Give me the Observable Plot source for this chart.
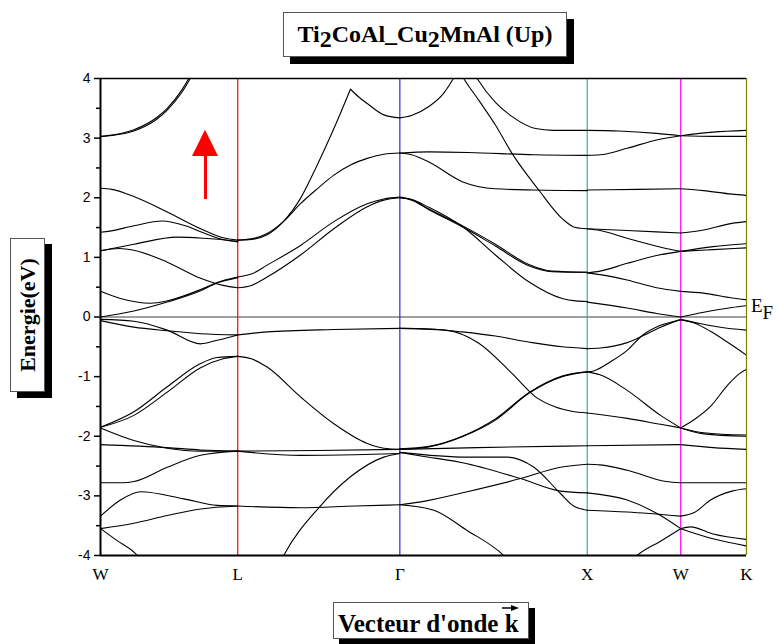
<!DOCTYPE html>
<html><head><meta charset="utf-8">
<script src="https://cdn.jsdelivr.net/npm/d3@7"></script>
<script src="https://cdn.jsdelivr.net/npm/@observablehq/plot@0.6"></script>
<style>
body{margin:0;background:#fff;}
#wrap{position:relative;width:779px;height:644px;overflow:hidden;font-family:"Liberation Serif","Times New Roman",serif;}
#wrap svg{position:absolute;left:0;top:0;}
.box{position:absolute;background:#fff;border:1px solid #555;box-sizing:border-box;font-weight:bold;color:#000;white-space:nowrap;}
.shadow{position:absolute;background:#000;}
</style></head><body><div id="wrap"></div>
<script>
// high-symmetry points
const kLabels = ["W","L","Γ","X","W","K"];
const kTicks = [0, 0.728, 1.588, 2.582, 3.078, 3.427];
const kLineColors = ["#000000","#ff0000","#2a2ad8","#40a8a8","#ff00ff","#808000"];
const energyTicks = [-4,-3,-2,-1,0,1,2,3,4];
const energyMinor = [-3.5,-2.5,-1.5,-0.5,0.5,1.5,2.5,3.5];

// bands, segment W-L  [k, E(eV)]
const bandsWL = [
  [[0,3.03],[0.06,3.05],[0.177,3.14],[0.30,3.35],[0.354,3.5],[0.43,3.8],[0.468,4.0],[0.5,4.2]],
  [[0,3.03],[0.06,3.045],[0.177,3.12],[0.30,3.32],[0.354,3.47],[0.43,3.76],[0.476,4.0],[0.51,4.2]],
  [[0,2.16],[0.06,2.14],[0.177,2.02],[0.354,1.76],[0.531,1.48],[0.65,1.33],[0.728,1.29]],
  [[0,1.42],[0.05,1.44],[0.177,1.53],[0.327,1.61],[0.45,1.53],[0.531,1.43],[0.65,1.3],[0.728,1.26]],
  [[0,1.11],[0.177,1.22],[0.407,1.34],[0.55,1.32],[0.728,1.27]],
  [[0,1.11],[0.1,1.15],[0.177,1.12],[0.354,0.92],[0.531,0.65],[0.65,0.53],[0.728,0.49]],
  [[0,0.43],[0.106,0.31],[0.265,0.23],[0.354,0.27],[0.531,0.46],[0.619,0.58],[0.728,0.67]],
  [[0,0],[0.177,0.1],[0.354,0.25],[0.531,0.44],[0.619,0.57],[0.728,0.66]],
  [[0,-0.04],[0.177,-0.07],[0.354,-0.22],[0.531,-0.45],[0.619,-0.39],[0.728,-0.30]],
  [[0,-0.06],[0.177,-0.17],[0.354,-0.23],[0.531,-0.28],[0.728,-0.30]],
  [[0,-1.85],[0.177,-1.59],[0.354,-1.17],[0.531,-0.78],[0.619,-0.68],[0.728,-0.66]],
  [[0,-1.85],[0.177,-1.65],[0.354,-1.26],[0.531,-0.85],[0.65,-0.7],[0.728,-0.66]],
  [[0,-1.86],[0.177,-2.07],[0.354,-2.2],[0.531,-2.25],[0.728,-2.25]],
  [[0,-2.14],[0.354,-2.19],[0.531,-2.23],[0.728,-2.25]],
  [[0,-2.78],[0.12,-2.78],[0.177,-2.76],[0.354,-2.52],[0.531,-2.32],[0.728,-2.25]],
  [[0,-3.34],[0.106,-3.07],[0.212,-2.93],[0.442,-3.05],[0.619,-3.16],[0.728,-3.17]],
  [[0,-3.55],[0.177,-3.46],[0.354,-3.33],[0.531,-3.22],[0.728,-3.17]],
  [[0,-3.55],[0.088,-3.75],[0.195,-4.0],[0.22,-4.1]]
];
// segment L-Γ
const bandsLG = [
  [[0.728,1.29],[0.8,1.3],[0.884,1.38],[0.97,1.6],[1.061,1.99],[1.15,2.55],[1.238,3.16],[1.326,3.82]],
  [[1.326,3.82],[1.37,3.69],[1.415,3.58],[1.503,3.39],[1.588,3.34]],
  [[0.728,1.29],[0.8,1.31],[0.884,1.4],[0.97,1.6],[1.061,1.9],[1.15,2.15],[1.238,2.38],[1.326,2.55],[1.415,2.66],[1.503,2.73],[1.588,2.75]],
  [[0.728,0.67],[0.8,0.72],[0.884,0.87],[1.061,1.2],[1.238,1.6],[1.415,1.9],[1.503,1.98],[1.588,2.01]],
  [[0.728,0.49],[0.8,0.53],[0.884,0.67],[1.061,1.04],[1.238,1.48],[1.415,1.85],[1.503,1.96],[1.588,2.0]],
  [[0.728,-0.30],[0.884,-0.25],[1.238,-0.21],[1.588,-0.19]],
  [[0.728,-0.66],[0.8,-0.7],[0.884,-0.84],[1.061,-1.34],[1.238,-1.79],[1.415,-2.12],[1.503,-2.2],[1.588,-2.22]],
  [[0.728,-2.25],[1.15,-2.24],[1.588,-2.22]],
  [[0.728,-2.25],[1.061,-2.32],[1.35,-2.31],[1.588,-2.29]],
  [[0.728,-3.17],[1.061,-3.2],[1.35,-3.17],[1.588,-3.15]],
  [[0.94,-4.2],[0.972,-4.0],[1.158,-3.2],[1.326,-2.68],[1.503,-2.35],[1.588,-2.29]]
];
// segment Γ-X
const bandsGX = [
  [[1.588,3.34],[1.65,3.38],[1.742,3.53],[1.82,3.75],[1.872,4.0],[1.9,4.15]],
  [[1.90,4.15],[1.927,4.0],[2.01,3.62],[2.095,3.22],[2.184,2.74],[2.325,2.13],[2.449,1.65],[2.52,1.5],[2.582,1.48]],
  [[1.97,4.15],[1.998,4.0],[2.095,3.6],[2.184,3.36],[2.308,3.16],[2.4,3.13],[2.582,3.13]],
  [[1.588,2.75],[1.742,2.77],[1.95,2.76],[2.3,2.72],[2.582,2.71]],
  [[1.588,2.75],[1.65,2.72],[1.742,2.6],[1.919,2.27],[2.095,2.15],[2.3,2.13],[2.582,2.12]],
  [[1.588,2.01],[1.65,1.97],[1.742,1.81],[1.927,1.52],[2.095,1.22],[2.272,0.88],[2.396,0.77],[2.582,0.75]],
  [[1.588,2.0],[1.65,1.96],[1.742,1.80],[1.927,1.5],[2.095,1.19],[2.272,0.86],[2.396,0.76],[2.582,0.75]],
  [[1.588,2.0],[1.65,1.97],[1.742,1.84],[1.927,1.5],[2.095,1.04],[2.272,0.59],[2.449,0.31],[2.52,0.27],[2.582,0.26]],
  [[1.588,-0.19],[1.75,-0.2],[1.919,-0.25],[2.095,-0.32],[2.272,-0.42],[2.45,-0.5],[2.582,-0.53]],
  [[1.588,-0.19],[1.83,-0.22],[2.007,-0.44],[2.184,-0.95],[2.308,-1.34],[2.414,-1.51],[2.50,-1.58],[2.582,-1.61]],
  [[1.588,-2.22],[1.742,-2.18],[1.919,-2.01],[2.095,-1.73],[2.272,-1.28],[2.449,-1.0],[2.582,-0.92]],
  [[1.588,-2.21],[1.742,-2.17],[1.919,-2.0],[2.095,-1.71],[2.272,-1.27],[2.449,-0.99],[2.582,-0.92]],
  [[1.588,-2.22],[2.0,-2.19],[2.582,-2.16]],
  [[1.588,-2.27],[1.945,-2.35],[2.158,-2.35],[2.299,-2.52],[2.44,-2.96],[2.51,-3.17],[2.582,-3.24]],
  [[1.588,-2.27],[1.7,-2.33],[1.945,-2.46],[2.228,-2.71],[2.44,-2.92],[2.582,-2.95]],
  [[1.588,-3.15],[1.7,-3.1],[1.945,-2.93],[2.228,-2.71],[2.44,-2.52],[2.582,-2.47]],
  [[1.588,-3.15],[1.768,-3.24],[1.945,-3.58],[2.139,-4.0],[2.17,-4.1]]
];
// segment X-W
const bandsXW = [
  [[2.582,3.13],[2.75,3.12],[2.95,3.08],[3.078,3.04]],
  [[2.582,2.71],[2.65,2.72],[2.794,2.83],[2.95,2.97],[3.078,3.04]],
  [[2.582,2.13],[2.85,2.14],[3.078,2.15]],
  [[2.582,1.48],[2.794,1.45],[3.078,1.41]],
  [[2.582,1.48],[2.65,1.45],[2.794,1.32],[3.0,1.15],[3.078,1.10]],
  [[2.582,0.74],[2.65,0.77],[2.794,0.9],[2.95,1.03],[3.078,1.10]],
  [[2.582,0.74],[2.65,0.71],[2.794,0.62],[2.95,0.49],[3.078,0.43]],
  [[2.582,0.25],[2.794,0.15],[2.95,0.06],[3.078,0.0]],
  [[2.582,-0.53],[2.652,-0.52],[2.794,-0.43],[2.874,-0.32],[2.971,-0.17],[3.078,-0.04]],
  [[2.582,-0.92],[2.62,-0.90],[2.706,-0.75],[2.794,-0.56],[2.874,-0.31],[2.971,-0.14],[3.078,-0.05]],
  [[2.582,-0.92],[2.65,-0.97],[2.794,-1.23],[2.971,-1.65],[3.078,-1.86]],
  [[2.582,-1.61],[2.794,-1.70],[2.971,-1.80],[3.078,-1.86]],
  [[2.582,-2.16],[3.078,-2.14]],
  [[2.582,-2.47],[2.65,-2.48],[2.794,-2.57],[3.0,-2.76],[3.078,-2.78]],
  [[2.582,-2.95],[2.794,-3.07],[2.971,-3.33],[3.078,-3.55]],
  [[2.582,-3.24],[2.794,-3.27],[3.078,-3.34]],
  [[2.82,-4.08],[2.847,-4.0],[2.971,-3.76],[3.078,-3.55]]
];
// segment W-K
const bandsWK = [
  [[3.078,3.04],[3.25,3.1],[3.427,3.13]],
  [[3.078,3.04],[3.25,3.03],[3.427,3.03]],
  [[3.078,2.15],[3.2,2.12],[3.35,2.06],[3.427,2.04]],
  [[3.078,1.41],[3.2,1.46],[3.35,1.57],[3.427,1.6]],
  [[3.078,1.10],[3.25,1.18],[3.427,1.23]],
  [[3.078,1.10],[3.25,1.13],[3.427,1.16]],
  [[3.078,0.43],[3.2,0.40],[3.35,0.32],[3.427,0.29]],
  [[3.078,0.0],[3.2,0.08],[3.35,0.16],[3.427,0.19]],
  [[3.078,-0.04],[3.18,-0.11],[3.325,-0.19],[3.427,-0.22]],
  [[3.078,-0.05],[3.15,-0.1],[3.236,-0.24],[3.325,-0.42],[3.427,-0.64]],
  [[3.078,-1.86],[3.15,-1.72],[3.236,-1.5],[3.325,-1.15],[3.39,-0.95],[3.427,-0.88]],
  [[3.078,-1.86],[3.2,-1.94],[3.427,-1.98]],
  [[3.078,-1.86],[3.2,-1.96],[3.427,-2.0]],
  [[3.078,-2.14],[3.25,-2.19],[3.427,-2.22]],
  [[3.078,-2.78],[3.25,-2.78],[3.427,-2.78]],
  [[3.078,-3.34],[3.15,-3.28],[3.236,-3.07],[3.35,-2.92],[3.427,-2.88]],
  [[3.078,-3.55],[3.13,-3.52],[3.25,-3.64],[3.427,-3.73]],
  [[3.078,-3.55],[3.25,-3.72],[3.427,-3.84]]
];
// spin-up arrow annotation
const arrowK = 0.557;
const arrowShaft = [1.97, 2.72];
const arrowHead = [[0.488,2.69,2.69],[0.557,2.69,3.13],[0.626,2.69,2.69]];

const rows = [];
[bandsWL, bandsLG, bandsGX, bandsXW, bandsWK].forEach((seg, s) =>
  seg.forEach((band, b) => band.forEach(([k, E]) => rows.push({k, E, id: s + "-" + b}))));
const symRows = kTicks.map((k, i) => ({k, c: kLineColors[i]}));
const headRows = arrowHead.map(([k, b, t]) => ({k, b, t}));

const chart = Plot.plot({
  width: 779, height: 644,
  marginLeft: 100, marginRight: 33, marginTop: 78, marginBottom: 89,
  x: {domain: [0, 3.427]},
  y: {domain: [-4, 4]},
  style: {background: "transparent", color: "#000"},
  marks: [
    Plot.ruleY([0], {stroke: "#808080", strokeWidth: 1.5}),
    Plot.ruleX(symRows.slice(1), {x: "k", stroke: "c", strokeWidth: 1.2}),
    Plot.line(rows, {x: "k", y: "E", z: "id", curve: "monotone-x", stroke: "#000", strokeWidth: 1.1, clip: true}),
    Plot.ruleX([arrowK], {y1: arrowShaft[0], y2: arrowShaft[1], stroke: "#ff0000", strokeWidth: 3}),
    Plot.areaY(headRows, {x: "k", y1: "b", y2: "t", fill: "#ff0000", curve: "linear"}),
    Plot.ruleY([4], {stroke: "#000", strokeWidth: 1.5}),
    Plot.ruleY([-4], {stroke: "#000", strokeWidth: 2}),
    Plot.ruleX([0], {stroke: "#000", strokeWidth: 2}),
    Plot.axisY(energyTicks, {tickSize: 6, tickPadding: 4, fontSize: 14, fontFamily: "Liberation Sans, Arial, sans-serif", tickFormat: d => String(d), label: null, strokeWidth: 1.5}),
    Plot.axisY(energyMinor, {tickSize: 4, tickFormat: () => "", label: null, strokeWidth: 1.5}),
    Plot.axisX(kTicks, {tickSize: 0, tickPadding: 12, fontSize: 17, fontFamily: "Liberation Serif, Times New Roman, serif", tickFormat: d => kLabels[kTicks.indexOf(d)], label: null})
  ]
});
const wrap = document.getElementById("wrap");
wrap.appendChild(chart);

function addDiv(cls, css, html) {
  const d = document.createElement("div");
  d.className = cls; d.style.cssText = css; if (html) d.innerHTML = html;
  wrap.appendChild(d); return d;
}
// title
addDiv("shadow", "left:290px;top:19px;width:284px;height:45px;");
addDiv("box", "left:283px;top:12px;width:284px;height:45px;font-size:24px;line-height:42px;text-align:center;",
  'Ti<span style="position:relative;top:5px">2</span>CoAl_Cu<span style="position:relative;top:5px">2</span>MnAl (Up)');
// y label
addDiv("shadow", "left:17px;top:244px;width:35px;height:154px;");
addDiv("box", "left:10px;top:238px;width:35px;height:154px;",
  '<div style="position:absolute;left:50%;top:50%;transform:translate(-50%,-50%) rotate(-90deg);font-size:22px;">Energie(eV)</div>');
// x label
addDiv("shadow", "left:339px;top:608px;width:196px;height:40px;");
addDiv("box", "left:333px;top:602px;width:196px;height:37px;font-size:25px;line-height:42px;padding-left:4px;",
  'Vecteur d\'onde k<svg width="18" height="8" style="position:absolute;left:168px;top:1px"><line x1="0" y1="4" x2="11" y2="4" stroke="#000" stroke-width="1.5"/><path d="M9,1 L17,4 L9,7 Z" fill="#000"/></svg>');
// Fermi level label
addDiv("", "position:absolute;left:751px;top:296px;font-size:19px;line-height:19px;",
  'E<span style="position:relative;top:7px">F</span>');
</script></body></html>
